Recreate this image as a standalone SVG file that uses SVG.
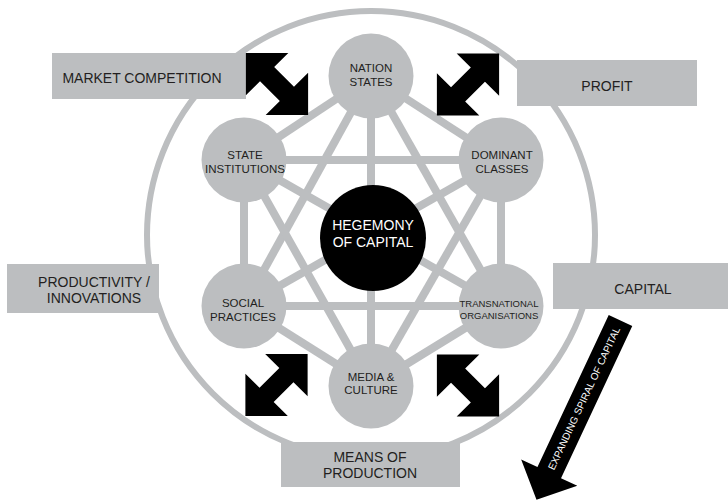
<svg xmlns="http://www.w3.org/2000/svg" width="728" height="501" viewBox="0 0 728 501">
  <style>
    .ring { fill: none; stroke: #bcbec0; stroke-width: 6; }
    .link { stroke: #bcbec0; stroke-width: 8; fill: none; }
    .node { fill: #bcbec0; }
    .box { fill: #bcbec0; }
    .lbl { font-family: "Liberation Sans", Arial, sans-serif; fill: #231f20; text-anchor: middle; }
    .nl { font-size: 11.5px; }
    .bl { font-size: 14px; }
    .hub { font-family: "Liberation Sans", Arial, sans-serif; fill: #ffffff; font-size: 14px; text-anchor: middle; }
    .arrow { fill: #000000; }
  </style>
  <defs>
    <!-- double-headed block arrow, axis along x, centred on the origin -->
    <polygon id="dbl" points="-44,0 -14,-30 -14,-10 14,-10 14,-30 44,0 14,30 14,10 -14,10 -14,30"/>
  </defs>

  <rect width="728" height="501" fill="#ffffff"/>

  <!-- outer ring -->
  <circle class="ring" cx="371" cy="235" r="224"/>

  <!-- connectors between the six outer nodes -->
  <g id="connectors" class="link">
    <line x1="371" y1="76" x2="244" y2="160"/>
    <line x1="371" y1="76" x2="501" y2="160"/>
    <line x1="371" y1="76" x2="244" y2="306"/>
    <line x1="371" y1="76" x2="501" y2="306"/>
    <line x1="371" y1="76" x2="371" y2="386"/>
    <line x1="244" y1="160" x2="501" y2="160"/>
    <line x1="244" y1="160" x2="244" y2="306"/>
    <line x1="244" y1="160" x2="501" y2="306"/>
    <line x1="244" y1="160" x2="371" y2="386"/>
    <line x1="501" y1="160" x2="501" y2="306"/>
    <line x1="501" y1="160" x2="244" y2="306"/>
    <line x1="501" y1="160" x2="371" y2="386"/>
    <line x1="244" y1="306" x2="501" y2="306"/>
    <line x1="244" y1="306" x2="371" y2="386"/>
    <line x1="501" y1="306" x2="371" y2="386"/>
  </g>

  <g id="nation-states">
    <circle class="node" cx="371" cy="76" r="42.5"/>
    <text class="lbl nl" x="371" y="72">NATION</text>
    <text class="lbl nl" x="371" y="86">STATES</text>
  </g>
  <g id="state-institutions">
    <circle class="node" cx="244" cy="160" r="42.5"/>
    <text class="lbl nl" x="245" y="159">STATE</text>
    <text class="lbl nl" x="245" y="173">INSTITUTIONS</text>
  </g>
  <g id="dominant-classes">
    <circle class="node" cx="501" cy="160" r="42.5"/>
    <text class="lbl nl" x="502" y="159">DOMINANT</text>
    <text class="lbl nl" x="502" y="173">CLASSES</text>
  </g>
  <g id="social-practices">
    <circle class="node" cx="244" cy="306" r="42.5"/>
    <text class="lbl nl" x="243" y="307">SOCIAL</text>
    <text class="lbl nl" x="243" y="321">PRACTICES</text>
  </g>
  <g id="transnational-organisations">
    <circle class="node" cx="501" cy="306" r="42.5"/>
    <text class="lbl" font-size="9.5" x="499" y="307">TRANSNATIONAL</text>
    <text class="lbl" font-size="9.5" x="499" y="318.5">ORGANISATIONS</text>
  </g>
  <g id="media-culture">
    <circle class="node" cx="371" cy="386" r="42.5"/>
    <text class="lbl nl" x="371" y="381">MEDIA &amp;</text>
    <text class="lbl nl" x="371" y="394">CULTURE</text>
  </g>
  <g id="hegemony-of-capital">
    <circle cx="373" cy="238" r="53" fill="#000000"/>
    <text class="hub" x="373" y="230">HEGEMONY</text>
    <text class="hub" x="373" y="247">OF CAPITAL</text>
  </g>

  <!-- label boxes around the ring -->
  <g id="market-competition">
    <rect class="box" x="52" y="53" width="194" height="46"/>
    <text class="lbl bl" x="142" y="83">MARKET COMPETITION</text>
  </g>
  <g id="profit">
    <rect class="box" x="517" y="60" width="180" height="46"/>
    <text class="lbl bl" x="607" y="91">PROFIT</text>
  </g>
  <g id="productivity-innovations">
    <rect class="box" x="7" y="264" width="152" height="49"/>
    <text class="lbl bl" x="94" y="287">PRODUCTIVITY /</text>
    <text class="lbl bl" x="94" y="303">INNOVATIONS</text>
  </g>
  <g id="capital">
    <rect class="box" x="553" y="263" width="175" height="46"/>
    <text class="lbl bl" x="643" y="294">CAPITAL</text>
  </g>
  <g id="means-of-production">
    <rect class="box" x="281" y="442" width="179" height="45"/>
    <text class="lbl bl" x="370" y="462">MEANS OF</text>
    <text class="lbl bl" x="370" y="478">PRODUCTION</text>
  </g>

  <!-- double arrows between neighbouring boxes -->
  <g id="double-arrows" class="arrow">
    <use href="#dbl" transform="translate(277,84) rotate(45)"/>
    <use href="#dbl" transform="translate(468,84.5) rotate(-45)"/>
    <use href="#dbl" transform="translate(276.5,385) rotate(-45)"/>
    <use href="#dbl" transform="translate(468,385.5) rotate(45)"/>
  </g>

  <!-- expanding spiral arrow -->
  <g id="expanding-spiral">
    <polygon class="arrow" transform="translate(620.5,320.5) rotate(115.1)" points="0,-13 168,-13 168,-31 198,0 168,31 168,13 0,13"/>
    <text transform="translate(584,398.4) rotate(-64.9)" y="3.5" font-family="Liberation Sans, Arial, sans-serif" font-size="10" fill="#ffffff" text-anchor="middle">EXPANDING SPIRAL OF CAPITAL</text>
  </g>
</svg>
